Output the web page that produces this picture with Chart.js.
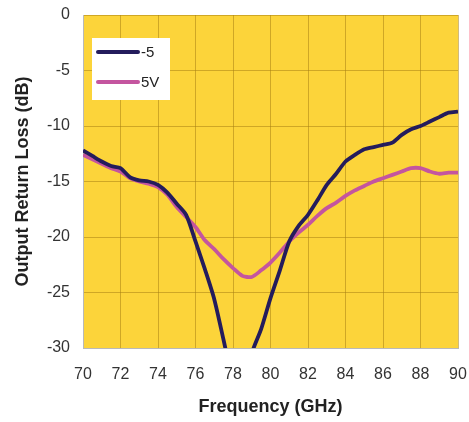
<!DOCTYPE html>
<html>
<head>
<meta charset="utf-8">
<script src="https://cdn.jsdelivr.net/npm/chart.js@4/dist/chart.umd.min.js"></script>
<style>
  html, body { margin: 0; padding: 0; background: #fff; }
  #wrap { width: 469px; height: 422px; position: relative; }
</style>
</head>
<body>
<div id="wrap"><canvas id="chart"></canvas></div>
<script>
// frequency points (GHz)
var freqs = [70, 70.5, 71, 71.5, 72, 72.5, 73, 73.5, 74, 74.5, 75, 75.5, 76, 76.5, 77, 77.5, 78, 78.5, 79, 79.5,
  80, 80.5, 81, 81.5, 82, 82.5, 83, 83.5, 84, 84.5, 85, 85.5, 86, 86.5, 87, 87.5, 88, 88.5, 89, 89.5, 90];

// return loss, -5 bias (goes below the -30 floor around 78 GHz)
var lossMinus5 = [-12.2, -12.7, -13.2, -13.6, -13.8, -14.6, -14.9, -15.0, -15.3, -16.0, -17.0, -18.0, -20.4, -22.9,
  -25.6, -29.3, -33.0, -35.0, -30.5, -28.3, -25.5, -23.0, -20.4, -19.0, -18.0, -16.7, -15.3, -14.3, -13.2, -12.6,
  -12.1, -11.9, -11.7, -11.5, -10.8, -10.3, -10.0, -9.6, -9.2, -8.8, -8.7];

// return loss, 5V bias
var loss5V = [-12.6, -13.0, -13.4, -13.8, -14.1, -14.7, -15.0, -15.2, -15.5, -16.2, -17.3, -18.2, -19.1, -20.3,
  -21.1, -22.0, -22.8, -23.5, -23.6, -23.0, -22.3, -21.4, -20.4, -19.6, -18.9, -18.1, -17.4, -16.9, -16.3, -15.8,
  -15.4, -15.0, -14.7, -14.4, -14.1, -13.8, -13.8, -14.1, -14.3, -14.2, -14.2];

var seriesNames = ['-5', '5V'];
var seriesColors = ['#241c5c', '#c4559f'];

var fontFamily = '"Liberation Sans", Arial, sans-serif';

function toPoints(ys) {
  var pts = [];
  for (var i = 0; i < freqs.length; i++) {
    pts.push({ x: freqs[i], y: ys[i] });
  }
  return pts;
}

var plotBg = {
  id: 'plotBg',
  beforeDraw: function(chart) {
    var a = chart.chartArea;
    var ctx = chart.ctx;
    ctx.save();
    ctx.fillStyle = '#fcd43a';
    ctx.fillRect(a.left, a.top, a.right - a.left, a.bottom - a.top);
    ctx.restore();
  }
};

// legend box drawn inside the plot, top-left
var insideLegend = {
  id: 'insideLegend',
  afterDatasetsDraw: function(chart) {
    var a = chart.chartArea;
    var ctx = chart.ctx;
    var x0 = a.left + 9;
    var y0 = a.top + 23;
    ctx.save();
    ctx.fillStyle = '#ffffff';
    ctx.fillRect(x0, y0, 78, 62);
    ctx.font = '15px ' + fontFamily;
    ctx.textBaseline = 'middle';
    for (var i = 0; i < chart.data.datasets.length; i++) {
      var ds = chart.data.datasets[i];
      var ly = y0 + 14 + i * 30;
      ctx.strokeStyle = ds.borderColor;
      ctx.lineWidth = 4;
      ctx.lineCap = 'round';
      ctx.beginPath();
      ctx.moveTo(x0 + 6, ly);
      ctx.lineTo(x0 + 46, ly);
      ctx.stroke();
      ctx.fillStyle = '#222';
      ctx.fillText(ds.label, x0 + 49, ly + 1);
    }
    ctx.restore();
  }
};

var gridColor = 'rgba(170, 130, 20, 0.55)';

new Chart(document.getElementById('chart').getContext('2d'), {
  type: 'line',
  data: {
    datasets: [
      {
        label: seriesNames[0],
        data: toPoints(lossMinus5),
        borderColor: seriesColors[0],
        borderWidth: 3.8,
        pointRadius: 0,
        tension: 0.25,
        clip: 0
      },
      {
        label: seriesNames[1],
        data: toPoints(loss5V),
        borderColor: seriesColors[1],
        borderWidth: 3.8,
        pointRadius: 0,
        tension: 0.25,
        clip: 0
      }
    ]
  },
  options: {
    responsive: true,
    maintainAspectRatio: false,
    animation: false,
    layout: { padding: { top: 15, right: 11, left: 8, bottom: 0 } },
    plugins: {
      legend: { display: false },
      tooltip: { enabled: false }
    },
    scales: {
      x: {
        type: 'linear',
        min: 70,
        max: 90,
        ticks: {
          stepSize: 2,
          color: '#333',
          padding: 0,
          font: { family: fontFamily, size: 16 }
        },
        // invisible tick marks push the labels down without widening the side padding
        grid: { color: gridColor, tickLength: 17, tickColor: 'rgba(0,0,0,0)' },
        border: { color: '#b9b9b9' },
        title: {
          display: true,
          text: 'Frequency (GHz)',
          color: '#222',
          padding: { top: 4, bottom: 4 },
          font: { family: fontFamily, size: 18, weight: 'bold' }
        },
        afterFit: function(scale) { scale.height = 74; }
      },
      y: {
        min: -30,
        max: 0,
        ticks: {
          stepSize: 5,
          color: '#333',
          padding: 1,
          font: { family: fontFamily, size: 16 }
        },
        grid: { color: gridColor, tickLength: 12, tickColor: 'rgba(0,0,0,0)' },
        border: { color: '#b9b9b9' },
        title: {
          display: true,
          text: 'Output Return Loss (dB)',
          color: '#222',
          padding: { top: 4, bottom: 4 },
          font: { family: fontFamily, size: 18, weight: 'bold' }
        },
        afterFit: function(scale) { scale.width = 75; }
      }
    }
  },
  plugins: [plotBg, insideLegend]
});
</script>
</body>
</html>
